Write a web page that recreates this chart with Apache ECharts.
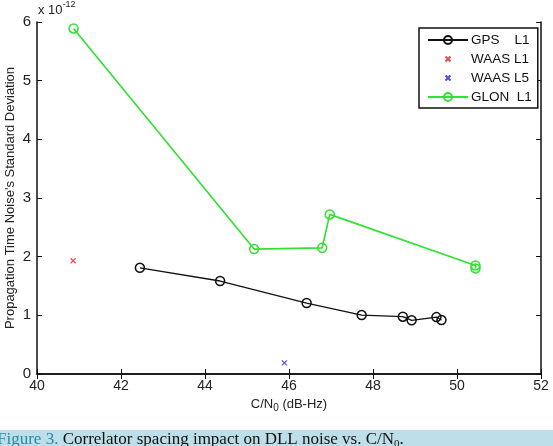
<!DOCTYPE html>
<html>
<head>
<meta charset="utf-8">
<script src="https://cdn.jsdelivr.net/npm/echarts@6/dist/echarts.min.js"></script>
<style>
  html, body { margin: 0; padding: 0; background: #fff; }
  #main { width: 553px; height: 446px; }
</style>
</head>
<body>
<div id="main"></div>
<script>
// values in units of 1e-12 s
const gpsX = [42.45, 44.36, 46.42, 47.73, 48.71, 48.92, 49.51, 49.63]
const gpsY = [1.81, 1.585, 1.21, 1.005, 0.977, 0.915, 0.97, 0.92]
const glonX = [40.87, 45.17, 46.79, 46.97, 50.44, 50.44]
const glonY = [5.89, 2.13, 2.15, 2.72, 1.85, 1.80]
const waasL1 = [[40.86, 1.93]]
const waasL5 = [[45.89, 0.19]]
const xTicks = [40, 42, 44, 46, 48, 50, 52]
const yTicks = [0, 1, 2, 3, 4, 5, 6]

const chartDom = document.getElementById('main')
const myChart = echarts.init(chartDom)

const zip = (xs, ys) => xs.map((x, i) => [x, ys[i]])
const cross = 'path://M0,0M10,10M2.5,2.5L7.5,7.5M7.5,2.5L2.5,7.5'
const font = '"Liberation Sans", Arial, sans-serif'
const serif = '"Liberation Serif", "Times New Roman", serif'

const axisBase = {
    type: 'value',
    axisLine: { show: true, lineStyle: { color: '#111', width: 1.5 } },
    axisTick: { show: true, inside: true, length: 5, lineStyle: { color: '#111', width: 1 } },
    splitLine: { show: false }
}

const option = {
    animation: false,
    backgroundColor: '#fff',
    grid: { left: 37, right: 12, top: 22, bottom: 72, outerBoundsMode: 'none', containLabel: false },
    legend: {
        orient: 'vertical',
        left: 419,
        top: 28,
        width: 117,
        padding: [5, 6, 4, 8],
        itemGap: 5,
        itemWidth: 40,
        itemHeight: 10,
        borderColor: '#111',
        borderWidth: 1.5,
        backgroundColor: '#fff',
        textStyle: { fontSize: 13.5, fontFamily: font, color: '#111', padding: [0, 0, 0, -2] },
        data: ['GPS    L1', 'WAAS L1', 'WAAS L5', 'GLON  L1']
    },
    xAxis: [
        Object.assign({}, axisBase, {
            min: 40, max: 52, interval: 2,
            name: '{a|C/N}{s|0}{a| (dB-Hz)}',
            nameLocation: 'middle',
            nameGap: 21,
            nameMoveOverlap: false,
            nameTextStyle: {
                rich: {
                    a: { fontSize: 13, fontFamily: font, color: '#222' },
                    s: { fontSize: 10, fontFamily: font, color: '#222', padding: [8, 0, 0, 0] }
                }
            },
            axisLabel: {
                fontSize: 14, fontFamily: font, color: '#222', margin: 5,
                formatter: v => xTicks.includes(v) ? String(v) : ''
            }
        }),
        Object.assign({}, axisBase, {
            position: 'top', min: 40, max: 52, interval: 2,
            axisLabel: { show: false }
        })
    ],
    yAxis: [
        Object.assign({}, axisBase, {
            min: 0, max: 6, interval: 1,
            name: "Propagation Time Noise's Standard Deviation",
            nameLocation: 'middle',
            nameGap: 20,
            nameMoveOverlap: false,
            nameTextStyle: { fontSize: 13, fontFamily: font, color: '#222' },
            axisLabel: {
                fontSize: 15, fontFamily: font, color: '#222', margin: 6,
                formatter: v => yTicks.includes(v) ? String(v) : ''
            }
        }),
        Object.assign({}, axisBase, {
            position: 'right', min: 0, max: 6, interval: 1,
            axisLabel: { show: false }
        })
    ],
    graphic: [
        {
            type: 'text', left: 38, top: 0,
            style: {
                text: '{a|x 10}{s|-12}',
                rich: {
                    a: { fontSize: 13, fontFamily: font, fill: '#222', padding: [5, 0, 0, 0] },
                    s: { fontSize: 9, fontFamily: font, fill: '#222', padding: [0, 0, 6, 0] }
                }
            }
        },
        {
            type: 'rect', left: 0, top: 430,
            shape: { width: 553, height: 16 },
            style: { fill: '#bcdfe9' }
        },
        {
            type: 'text', left: -3, top: 431,
            style: {
                text: '{f|Figure 3.}{t| Correlator spacing impact on DLL noise vs. C/N}{s|0}{t|.}',
                rich: {
                    f: { fontSize: 17, fontFamily: serif, fill: '#2a8aa0' },
                    t: { fontSize: 17, fontFamily: serif, fill: '#111' },
                    s: { fontSize: 11, fontFamily: serif, fill: '#111', padding: [9, 0, 0, 0] }
                }
            }
        }
    ],
    series: [
        {
            name: 'GPS    L1',
            type: 'line',
            data: zip(gpsX, gpsY),
            symbol: 'circle',
            symbolSize: 9,
            showSymbol: true,
            lineStyle: { color: '#111', width: 1.3 },
            itemStyle: { color: 'transparent', borderColor: '#111', borderWidth: 1.5 }
        },
        {
            name: 'WAAS L1',
            type: 'scatter',
            data: waasL1,
            symbol: cross,
            symbolSize: 10,
            itemStyle: { color: '#e0201e', borderColor: '#e0201e', borderWidth: 1.2 }
        },
        {
            name: 'WAAS L5',
            type: 'scatter',
            data: waasL5,
            symbol: cross,
            symbolSize: 10,
            itemStyle: { color: '#2020e0', borderColor: '#2020e0', borderWidth: 1.2 }
        },
        {
            name: 'GLON  L1',
            type: 'line',
            data: zip(glonX, glonY),
            symbol: 'circle',
            symbolSize: 9,
            showSymbol: true,
            lineStyle: { color: '#33e133', width: 1.7 },
            itemStyle: { color: 'transparent', borderColor: '#33e133', borderWidth: 1.5 }
        }
    ]
}

myChart.setOption(option)
</script>
</body>
</html>
